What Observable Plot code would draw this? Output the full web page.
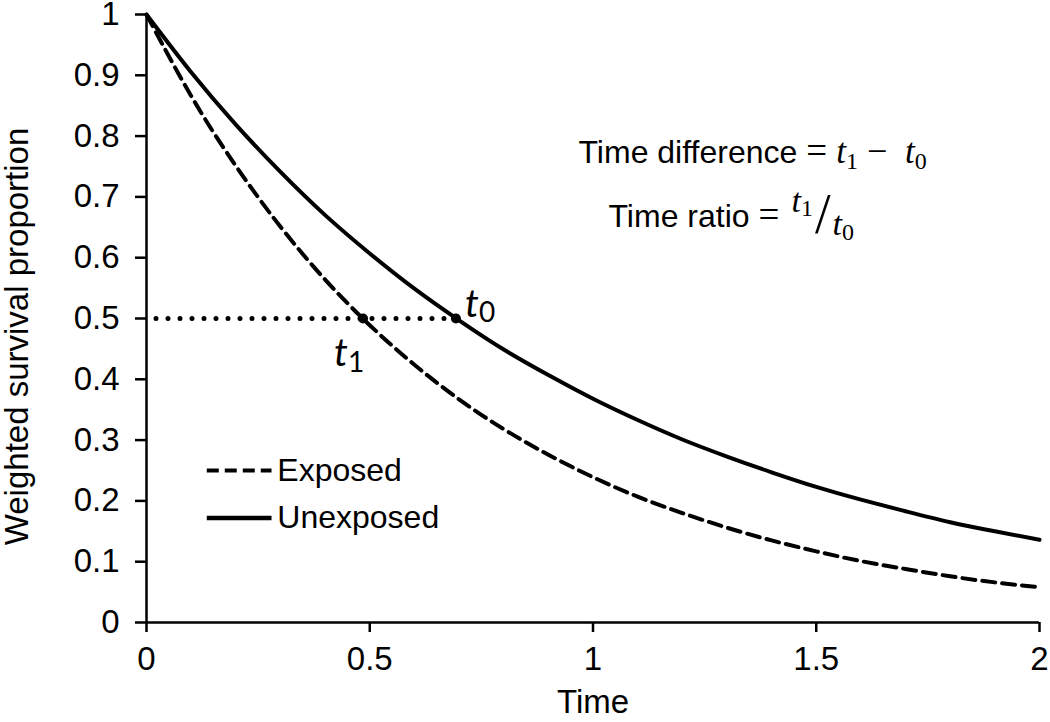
<!DOCTYPE html>
<html>
<head>
<meta charset="utf-8">
<script src="https://cdn.jsdelivr.net/npm/d3@7"></script>
<script src="https://cdn.jsdelivr.net/npm/@observablehq/plot@0.6"></script>
<style>
  html, body { margin: 0; padding: 0; background: #fff; }
  svg { font-family: "Liberation Sans", Arial, sans-serif; }
</style>
</head>
<body>
<div id="chart"></div>
<script>
// ---- data ----
const times      = [0, 0.1, 0.2, 0.3, 0.4, 0.5, 0.6, 0.7, 0.8, 0.9, 1.0, 1.1, 1.2, 1.3, 1.4, 1.5, 1.6, 1.7, 1.8, 1.9, 2.0];
const unexposed  = [1.00, 0.905, 0.819, 0.741, 0.670, 0.607, 0.549, 0.497, 0.449, 0.407, 0.368, 0.333, 0.301, 0.273, 0.247, 0.223, 0.202, 0.183, 0.165, 0.150, 0.136];
const exposed    = [1.00, 0.866, 0.751, 0.651, 0.564, 0.489, 0.424, 0.367, 0.318, 0.276, 0.239, 0.207, 0.180, 0.156, 0.135, 0.117, 0.101, 0.088, 0.076, 0.066, 0.058];
const xTicks     = [0, 0.5, 1, 1.5, 2];
const yTicks     = [0, 0.1, 0.2, 0.3, 0.4, 0.5, 0.6, 0.7, 0.8, 0.9, 1];
const halfLevel  = 0.5;
const medianTimes = [0.485, 0.693];        // t1 (exposed), t0 (unexposed)
const medianNames = ["1", "0"];
const legendNames = ["Exposed", "Unexposed"];
const legendRows  = [0.25, 0.172];          // legend row levels (y units)
const legendLine  = [0.135, 0.28];          // legend sample extent (x units)
const legendTextX = 0.293;

const unexposedData = times.map((t, i) => ({t, s: unexposed[i]}));
const exposedData   = times.map((t, i) => ({t, s: exposed[i]}));
const medians = medianTimes.map((t, i) => ({t, s: halfLevel, name: medianNames[i]}));
const legend = legendNames.map((name, i) => ({name, y: legendRows[i], dash: i === 0}));

const ink = "#000";
const sans = "Liberation Sans, Arial, sans-serif";
const calib = "Lato, 'Open Sans', 'Noto Sans', sans-serif";

const t1 = medians.filter(d => d.name === "1");
const t0 = medians.filter(d => d.name === "0");

const svg = Plot.plot({
  width: 1050,
  height: 722,
  marginLeft: 146,
  marginRight: 11,
  marginTop: 14,
  marginBottom: 100,
  x: {domain: [0, 2]},
  y: {domain: [0, 1]},
  style: {fontFamily: sans, color: ink, background: "#fff", overflow: "visible"},
  marks: [
    // curves
    Plot.line(exposedData, {x: "t", y: "s", stroke: ink, strokeWidth: 4, strokeDasharray: "13,7", curve: "natural"}),
    Plot.line(unexposedData, {x: "t", y: "s", stroke: ink, strokeWidth: 4, curve: "natural"}),
    // dotted median line
    Plot.ruleY([halfLevel], {x1: 0, x2: medianTimes[1], stroke: ink, strokeWidth: 5, strokeDasharray: "0,12", strokeLinecap: "round", strokeDashoffset: -10}),
    Plot.dot(medians, {x: "t", y: "s", r: 5, fill: ink}),
    // t labels with subscripts
    Plot.text(t0, {x: "t", y: "s", text: () => "t", fontFamily: calib, fontStyle: "italic", fontSize: 39, textAnchor: "start", lineAnchor: "bottom", dx: 9, dy: -2, fill: ink}),
    Plot.text(t0, {x: "t", y: "s", text: "name", fontFamily: calib, fontSize: 28, textAnchor: "start", lineAnchor: "bottom", dx: 23, dy: 3, fill: ink}),
    Plot.text(t1, {x: "t", y: "s", text: () => "t", fontFamily: calib, fontStyle: "italic", fontSize: 39, textAnchor: "start", lineAnchor: "bottom", dx: -29, dy: 47, fill: ink}),
    Plot.text(t1, {x: "t", y: "s", text: "name", fontFamily: calib, fontSize: 28, textAnchor: "start", lineAnchor: "bottom", dx: -15, dy: 53, fill: ink}),
    // axes
    Plot.axisX(xTicks, {tickSize: 10, tickPadding: 14, fontSize: 33, tickFormat: d => String(d), strokeWidth: 2.5, label: null}),
    Plot.axisY(yTicks, {tickSize: 11, tickPadding: 16, fontSize: 33, tickFormat: d => String(d), strokeWidth: 2.5, label: null}),
    Plot.ruleX([0], {stroke: ink, strokeWidth: 2.5}),
    Plot.ruleY([0], {stroke: ink, strokeWidth: 2.5}),
    // axis titles
    Plot.text(["Time"], {frameAnchor: "bottom", dy: 90, fontSize: 33, fill: ink}),
    Plot.text(["Weighted survival proportion"], {frameAnchor: "left", textAnchor: "middle", dx: -129, dy: 18, rotate: -90, fontSize: 33, fill: ink}),
    // legend
    Plot.link(legend.filter(d => d.dash), {x1: () => legendLine[0], x2: () => legendLine[1], y1: "y", y2: "y", stroke: ink, strokeWidth: 4, strokeDasharray: "12,6"}),
    Plot.link(legend.filter(d => !d.dash), {x1: () => legendLine[0], x2: () => legendLine[1], y1: "y", y2: "y", stroke: ink, strokeWidth: 4.5}),
    Plot.text(legend, {x: () => legendTextX, y: "y", text: "name", textAnchor: "start", fontSize: 32, fill: ink}),
    // equations (styled below)
    Plot.text(["Time difference = t1 − t0"], {frameAnchor: "top-left", dx: 432, dy: 148, textAnchor: "start", lineAnchor: "bottom", fontSize: 32, fill: ink}),
    Plot.text(["Time ratio = t1/t0"], {frameAnchor: "top-left", dx: 462, dy: 212, textAnchor: "start", lineAnchor: "bottom", fontSize: 32, fill: ink})
  ]
});

document.getElementById("chart").append(svg);

// ---- style equation texts with tspans ----
const root = d3.select(svg);
function restyle(textValue, parts) {
  root.selectAll("text").filter(function () { return this.textContent === textValue; }).each(function () {
    const el = d3.select(this);
    el.text(null);
    for (const p of parts) {
      const ts = el.append("tspan").text(p.t);
      if (p.family) ts.attr("font-family", p.family);
      if (p.size) ts.attr("font-size", p.size);
      if (p.italic) ts.attr("font-style", "italic");
      if (p.dy) ts.attr("dy", p.dy);
      if (p.dx) ts.attr("dx", p.dx);
    }
  });
}
const serif = "Liberation Serif, 'DejaVu Serif', serif";
restyle("Time difference = t1 − t0", [
  {t: "Time difference "},
  {t: "= ", family: serif, size: 37},
  {t: "t", family: serif, italic: true, size: 35},
  {t: "1", family: serif, size: 24, dy: 6},
  {t: " − ", family: serif, size: 36, dy: -6},
  {t: " t", family: serif, italic: true, size: 35},
  {t: "0", family: serif, size: 24, dy: 6}
]);
restyle("Time ratio = t1/t0", [
  {t: "Time ratio "},
  {t: "= ", family: serif, size: 37},
  {t: "t", family: serif, italic: true, size: 34, dy: -15, dx: 3},
  {t: "1", family: serif, size: 24, dy: 4},
  {t: "/", family: serif, size: 56, dy: 17, dx: 2},
  {t: "t", family: serif, italic: true, size: 34, dy: 2, dx: 2},
  {t: "0", family: serif, size: 24, dy: 5}
]);
</script>
</body>
</html>
